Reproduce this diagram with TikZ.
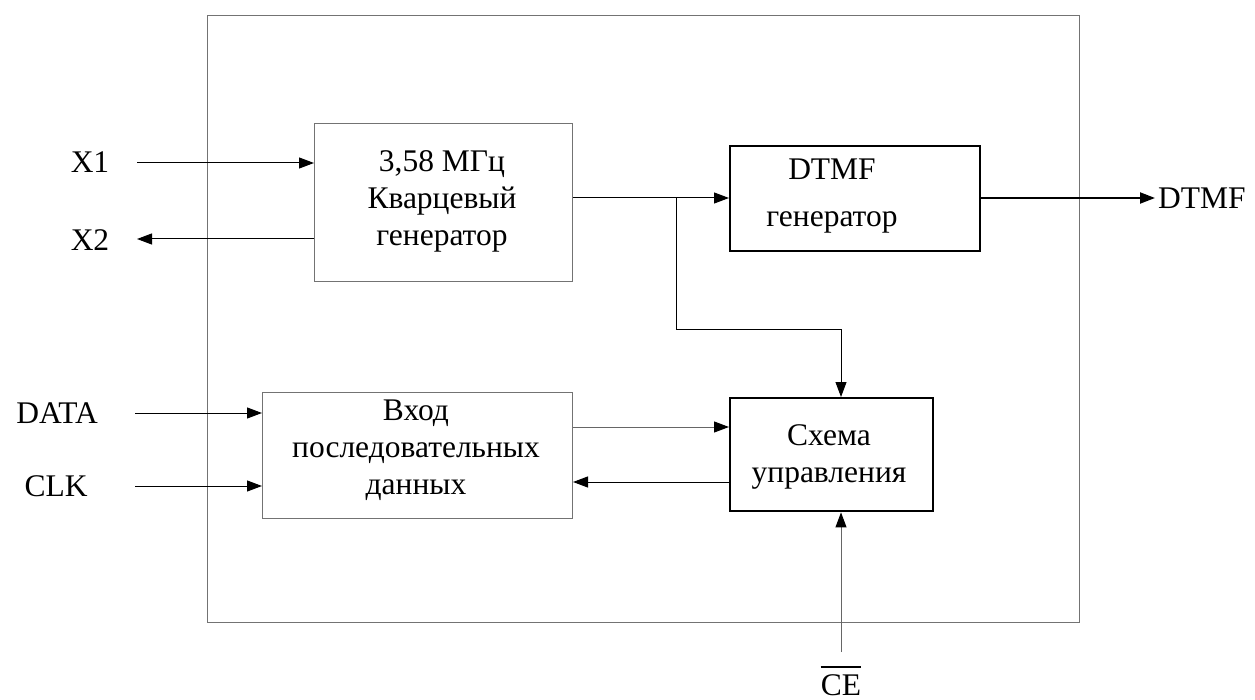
\documentclass[tikz,border=0pt]{standalone}
\usepackage{fontspec}
\setmainfont{Liberation Serif}
\usetikzlibrary{arrows.meta}
\begin{document}
\begin{tikzpicture}[x=1pt,y=-1pt,
  thinbox/.style={draw=black!55, line width=1pt, inner sep=0pt, anchor=north west},
  thickbox/.style={draw=black, line width=2.4pt, inner sep=0pt, anchor=north west},
  txt/.style={font=\fontsize{31.5}{37}\selectfont, align=center, inner sep=0pt},
  arr/.style={line width=1pt, -{Triangle[length=15pt,width=11pt,color=black]}},
  thickarr/.style={line width=2pt, -{Triangle[length=15pt,width=11pt]}},
  wire/.style={line width=1pt}]
\useasboundingbox (0,0) rectangle (1255,700);
% outer chip
\node[thinbox, minimum width=872pt, minimum height=607pt] (chip) at (207,15) {};
% blocks
\node[thinbox, minimum width=258pt, minimum height=158pt] (osc) at (314,123) {};
\node[txt] (osctxt) at (442,201) {3,58 МГц\\Кварцевый\\генератор};
\node[thickbox, minimum width=250pt, minimum height=105pt] (dtmf) at (729,145) {};
\node[txt] (dtmftxt) at (832,196) {DTMF\\[10pt]генератор};
\node[thinbox, minimum width=310pt, minimum height=126pt] (ser) at (262,392) {};
\node[txt] (sertxt) at (416,450) {Вход\\последовательных\\данных};
\node[thickbox, minimum width=203pt, minimum height=113pt] (ctrl) at (729,397) {};
\node[txt] (ctrltxt) at (829,457) {Схема\\управления};
% external labels
\node[txt] (x1) at (90,162) {X1};
\node[txt] (x2) at (90,240) {X2};
\node[txt] (data) at (57,413) {DATA};
\node[txt] (clk) at (56,486) {CLK};
\node[txt, anchor=west] (dout) at (1158,198) {DTMF};
\node[txt, anchor=base] (ce) at (841,695) {CE};
\draw[line width=1.4pt] ([yshift=7pt]ce.north west) -- ([yshift=7pt]ce.north east);
% coordinates
\coordinate (x1s) at (137,163);
\coordinate (x2e) at (137,239);
\coordinate (ds) at (135,413);
\coordinate (cs) at (135,486);
\coordinate (j) at (676,198);
\coordinate (k) at (841,330);
\coordinate (dtmfend) at (1155,198);
\coordinate (ces) at (841,652);
% connectors
\draw[arr] (x1s) -- (x1s -| osc.west);
\draw[arr] (x2e -| osc.west) -- (x2e);
\draw[arr] (j -| osc.east) -- (j -| dtmf.west);
\draw[arr] (j) |- (k) -- (k |- ctrl.north);
\draw[thickarr] (dtmf.east |- j) -- (dtmfend);
\draw[arr] (ds) -- (ds -| ser.west);
\draw[arr] (cs) -- (cs -| ser.west);
\draw[arr, draw=black!60] (ser.east |- 0,427) -- (ctrl.west |- 0,427);
\draw[arr] (ctrl.west |- 0,482) -- (ser.east |- 0,482);
\draw[arr, draw=black!60] (ces) -- (ces |- ctrl.south);
\end{tikzpicture}
\end{document}
